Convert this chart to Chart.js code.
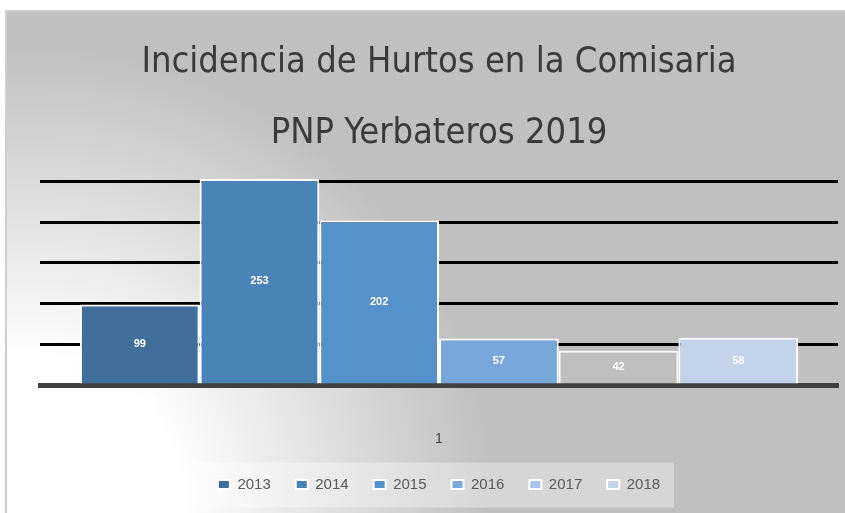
<!DOCTYPE html>
<html>
<head>
<meta charset="utf-8">
<script src="https://cdn.jsdelivr.net/npm/chart.js@4"></script>
<style>
  body { margin: 0; background: #fff; }
  #wrap { position: relative; width: 845px; height: 513px; }
  #panel {
    position: absolute; left: 5px; top: 10px; width: 838px; height: 503px;
    border-left: 2px solid #cfcfcf; border-top: 2px solid #cfcfcf;
    background: radial-gradient(circle at 25px 495px, #ffffff 0px, #ffffff 150px, #c0c0c0 460px);
  }
  canvas { position: absolute; left: 0; top: 0; }
</style>
</head>
<body>
<div id="wrap">
  <div id="panel"></div>
  <canvas id="myChart" width="845" height="513"></canvas>
</div>
<script>
// chart data
const categories = ['1'];
const years = ['2013', '2014', '2015', '2016', '2017', '2018'];
const hurtos = [99, 253, 202, 57, 42, 58];
const barColors = ['#416f9c', '#4a83b6', '#5592cb', '#78a8db', '#bfbfbf', '#c3d3ea'];
const legendColors = ['#416f9c', '#4a83b6', '#5592cb', '#78a8db', '#a8c4e6', '#c3d3ea'];
const yTicks = [0, 50, 100, 150, 200, 250];

const datasets = years.map((y, i) => ({
  label: y,
  data: [hurtos[i]],
  backgroundColor: barColors[i],
  borderColor: '#ffffff',
  borderWidth: 2,
  barPercentage: 1,
  categoryPercentage: 0.9
}));

// white value labels in the middle of each bar
const valueLabels = {
  id: 'valueLabels',
  afterDatasetsDraw(chart) {
    const c = chart.ctx;
    c.save();
    c.fillStyle = '#ffffff';
    c.font = 'bold 11px "Liberation Sans", Arial, sans-serif';
    c.textAlign = 'center';
    c.textBaseline = 'middle';
    chart.data.datasets.forEach((ds, i) => {
      chart.getDatasetMeta(i).data.forEach((bar, j) => {
        c.fillText(ds.data[j], bar.x, (bar.y + bar.base) / 2);
      });
    });
    c.restore();
  }
};

// light box behind the legend
const legendBox = {
  id: 'legendBox',
  beforeDraw(chart) {
    const l = chart.legend;
    if (!l || !l.legendHitBoxes.length) return;
    const h = l.legendHitBoxes[0];
    const cy = h.top + h.height / 2;
    const c = chart.ctx;
    c.save();
    c.fillStyle = 'rgba(255,255,255,0.35)';
    c.fillRect(192, cy - 22, 482, 45);
    c.restore();
  }
};

const ctx = document.getElementById('myChart');

new Chart(ctx, {
  type: 'bar',
  data: { labels: categories, datasets: datasets },
  plugins: [valueLabels, legendBox],
  options: {
    responsive: false,
    animation: false,
    layout: { padding: { left: 40, right: 7, top: 0, bottom: 11 } },
    plugins: {
      title: {
        display: true,
        text: ['Incidencia de Hurtos en la Comisaria', 'PNP Yerbateros 2019'],
        color: '#3a3a3a',
        font: { family: '"DejaVu Sans Condensed", "Liberation Sans Narrow", sans-serif', size: 36, weight: 'normal', lineHeight: 1.95 },
        padding: { top: 28, bottom: 5 }
      },
      legend: {
        position: 'bottom',
        labels: {
          color: '#595959',
          font: { family: '"Liberation Sans", Arial, sans-serif', size: 15 },
          boxWidth: 12,
          boxHeight: 9,
          padding: 25,
          generateLabels(chart) {
            const items = Chart.defaults.plugins.legend.labels.generateLabels(chart);
            items.forEach((it, i) => { it.fillStyle = legendColors[i]; });
            return items;
          }
        }
      },
      tooltip: { enabled: false }
    },
    scales: {
      x: {
        afterFit(scale) { scale.height = 67; },
        grid: { display: false, drawTicks: false },
        border: { display: true, color: '#404040', width: 5 },
        ticks: { color: '#404040', font: { size: 14, family: '"Liberation Sans", Arial, sans-serif' }, padding: 46 }
      },
      y: {
        min: 0,
        max: 260,
        z: 1,
        afterBuildTicks(scale) { scale.ticks = yTicks.map(v => ({ value: v })); },
        ticks: { display: false },
        border: { display: false },
        grid: {
          color: c => (c.tick && c.tick.value > 0 ? '#000000' : 'rgba(0,0,0,0)'),
          lineWidth: 3,
          drawTicks: false
        }
      }
    }
  }
});
</script>
</body>
</html>
